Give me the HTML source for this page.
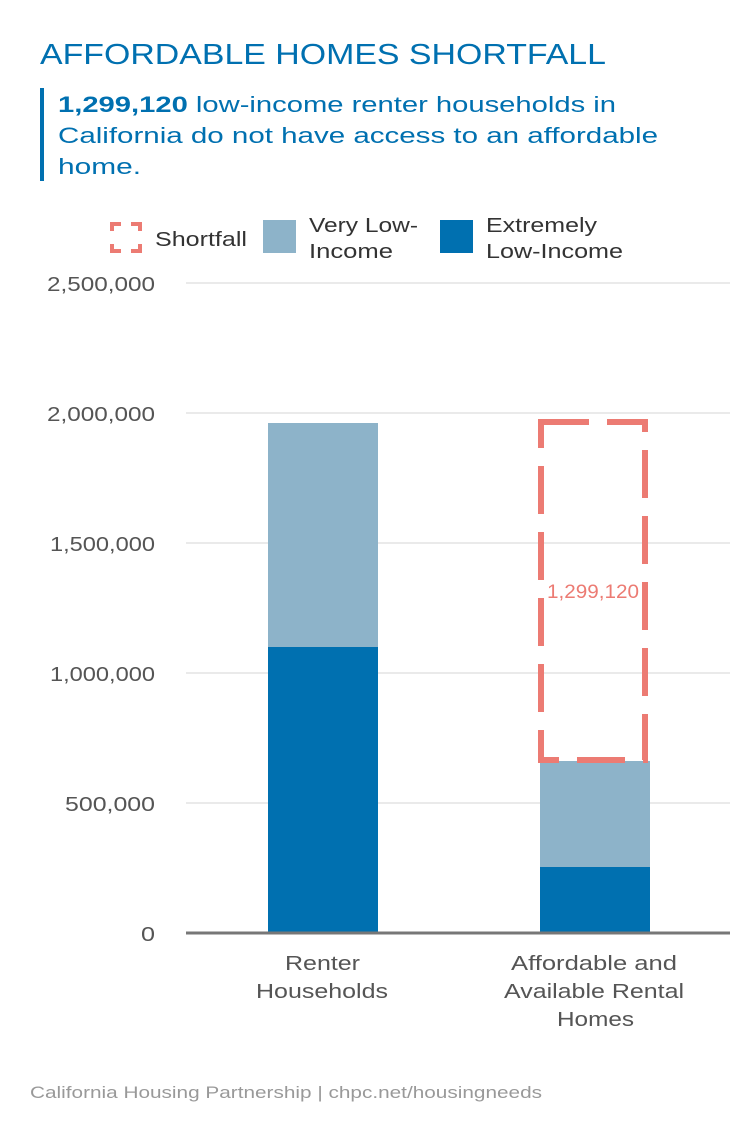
<!DOCTYPE html>
<html><head><meta charset="utf-8"><style>
body{margin:0;background:#fff;font-family:"Liberation Sans",sans-serif;}
</style></head><body>
<svg width="754" height="1141" xmlns="http://www.w3.org/2000/svg" font-family="Liberation Sans, sans-serif">
<rect width="754" height="1141" fill="#fff"/>
<text x="40" y="64" font-size="29" fill="#0070b0" textLength="566" lengthAdjust="spacingAndGlyphs">AFFORDABLE HOMES SHORTFALL</text>
<rect x="40" y="88" width="4" height="93" fill="#0070b0"/>
<g font-size="22.5" fill="#0070b0">
<text x="58" y="112" textLength="558" lengthAdjust="spacingAndGlyphs"><tspan font-weight="bold">1,299,120</tspan> low-income renter households in</text>
<text x="58" y="143" textLength="600" lengthAdjust="spacingAndGlyphs">California do not have access to an affordable</text>
<text x="58" y="174" textLength="83" lengthAdjust="spacingAndGlyphs">home.</text>
</g>
<g stroke="#ec7b73" stroke-width="4" fill="none">
<path d="M112 231 V224 H121 M131 224 H140 V231 M140 244 V251 H131 M121 251 H112 V244"/>
</g>
<g font-size="20" fill="#333">
<text x="155" y="246" textLength="92" lengthAdjust="spacingAndGlyphs">Shortfall</text>
<text x="309" y="232" textLength="109" lengthAdjust="spacingAndGlyphs">Very Low-</text>
<text x="309" y="258" textLength="84" lengthAdjust="spacingAndGlyphs">Income</text>
<text x="486" y="232" textLength="111" lengthAdjust="spacingAndGlyphs">Extremely</text>
<text x="486" y="258" textLength="137" lengthAdjust="spacingAndGlyphs">Low-Income</text>
</g>
<rect x="263" y="220" width="33" height="33" fill="#8db3c9"/>
<rect x="440" y="220" width="33" height="33" fill="#0070b0"/>
<g stroke="#e3e3e3" stroke-width="1.5">
<line x1="186" y1="283" x2="730" y2="283"/>
<line x1="186" y1="413" x2="730" y2="413"/>
<line x1="186" y1="543" x2="730" y2="543"/>
<line x1="186" y1="673" x2="730" y2="673"/>
<line x1="186" y1="803" x2="730" y2="803"/>
</g>
<g font-size="20" fill="#555">
<text x="47" y="291" textLength="108" lengthAdjust="spacingAndGlyphs">2,500,000</text>
<text x="47" y="421" textLength="108" lengthAdjust="spacingAndGlyphs">2,000,000</text>
<text x="50" y="551" textLength="105" lengthAdjust="spacingAndGlyphs">1,500,000</text>
<text x="50" y="681" textLength="105" lengthAdjust="spacingAndGlyphs">1,000,000</text>
<text x="65" y="811" textLength="90" lengthAdjust="spacingAndGlyphs">500,000</text>
<text x="141" y="941" textLength="14" lengthAdjust="spacingAndGlyphs">0</text>
</g>
<rect x="268" y="423" width="110" height="224" fill="#8db3c9"/>
<rect x="268" y="647" width="110" height="286" fill="#0070b0"/>
<rect x="540" y="761" width="110" height="106" fill="#8db3c9"/>
<rect x="540" y="867" width="110" height="66" fill="#0070b0"/>
<rect x="541" y="422" width="104" height="338" fill="none" stroke="#ec7b73" stroke-width="6" stroke-dasharray="48 18"/>
<text x="547" y="598" font-size="19" fill="#ec7b73" textLength="92" lengthAdjust="spacingAndGlyphs">1,299,120</text>
<line x1="186" y1="933" x2="730" y2="933" stroke="#777" stroke-width="3"/>
<g font-size="20" fill="#555">
<text x="285" y="970" textLength="75" lengthAdjust="spacingAndGlyphs">Renter</text>
<text x="256" y="998" textLength="132" lengthAdjust="spacingAndGlyphs">Households</text>
<text x="511" y="970" textLength="166" lengthAdjust="spacingAndGlyphs">Affordable and</text>
<text x="504" y="998" textLength="180" lengthAdjust="spacingAndGlyphs">Available Rental</text>
<text x="557" y="1026" textLength="77" lengthAdjust="spacingAndGlyphs">Homes</text>
</g>
<text x="30" y="1098" font-size="17" fill="#999" textLength="512" lengthAdjust="spacingAndGlyphs">California Housing Partnership | chpc.net/housingneeds</text>
</svg>
</body></html>
